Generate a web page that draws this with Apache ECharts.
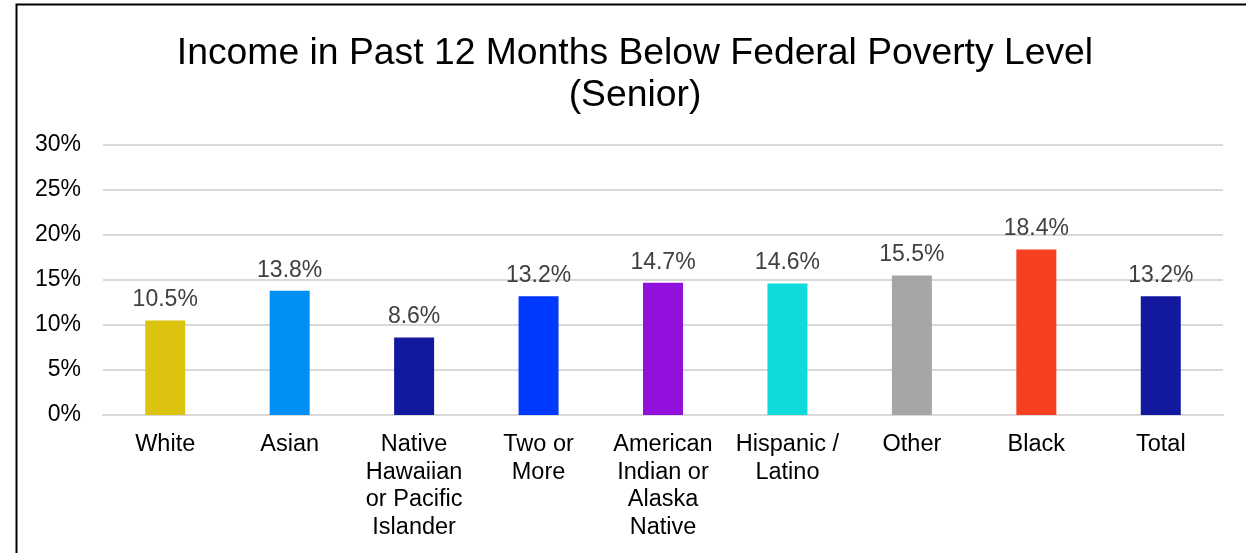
<!DOCTYPE html>
<html>
<head>
<meta charset="utf-8">
<script src="https://cdn.jsdelivr.net/npm/echarts@6/dist/echarts.min.js"></script>
<style>
html, body { margin: 0; padding: 0; background: #fff; }
#main { width: 1246px; height: 553px; }
</style>
</head>
<body>
<div id="main"></div>
<script>
// chart data
var categories = ['White', 'Asian', 'Native\nHawaiian\nor Pacific\nIslander', 'Two or\nMore',
  'American\nIndian or\nAlaska\nNative', 'Hispanic /\nLatino', 'Other', 'Black', 'Total'];
var values = [10.5, 13.8, 8.6, 13.2, 14.7, 14.6, 15.5, 18.4, 13.2];
var barColors = ['#dbc30f', '#0090f5', '#13199e', '#0039ff', '#9210db', '#10dadb', '#a6a6a6', '#f73f21', '#13199e'];
var yTicks = [0, 5, 10, 15, 20, 25, 30];

var myChart = echarts.init(document.getElementById('main'));
myChart.setOption({
  animation: false,
  textStyle: { fontFamily: '"Liberation Sans", Arial, sans-serif' },
  title: {
    text: 'Income in Past 12 Months Below Federal Poverty Level\n(Senior)',
    left: 630,
    textAlign: 'center',
    top: 28,
    textStyle: {
      fontSize: 37.3,
      fontWeight: 'normal',
      color: '#000',
      lineHeight: 42
    }
  },
  graphic: [{
    type: 'polyline',
    shape: { points: [[16.5, 553], [16.5, 4.5], [1246, 4.5]] },
    style: { stroke: '#000', lineWidth: 2, fill: null }
  }],
  grid: { left: 103, right: 23, top: 145, bottom: 138 },
  xAxis: {
    type: 'category',
    data: categories,
    axisLine: { lineStyle: { color: '#d9d9d9', width: 2 } },
    axisTick: { show: false },
    axisLabel: {
      color: '#000',
      fontSize: 23.5,
      lineHeight: 27.5,
      margin: 16,
      interval: 0
    }
  },
  yAxis: {
    type: 'value',
    min: yTicks[0],
    max: yTicks[yTicks.length - 1],
    interval: 5,
    axisLine: { show: false },
    axisTick: { show: false },
    splitLine: { lineStyle: { color: '#d9d9d9', width: 2 } },
    axisLabel: {
      color: '#000',
      fontSize: 23,
      margin: 22,
      formatter: '{value}%'
    }
  },
  series: [{
    type: 'bar',
    barWidth: 40,
    data: values.map(function (v, i) {
      return { value: v, itemStyle: { color: barColors[i] } };
    }),
    label: {
      show: true,
      position: 'top',
      distance: 9,
      color: '#404040',
      fontSize: 23,
      formatter: function (p) { return p.value.toFixed(1) + '%'; }
    }
  }]
});
</script>
</body>
</html>
